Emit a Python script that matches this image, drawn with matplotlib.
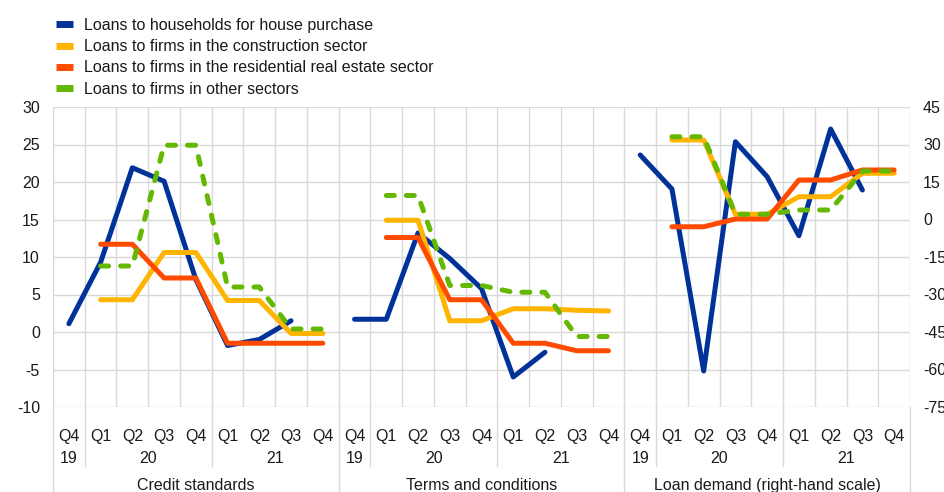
import numpy as np
import matplotlib.pyplot as plt
from matplotlib.lines import Line2D

plt.rcParams['font.family'] = ['Liberation Sans', 'DejaVu Sans']
plt.rcParams['axes.unicode_minus'] = False

# Data
quarters = ['Q4', 'Q1', 'Q2', 'Q3', 'Q4', 'Q1', 'Q2', 'Q3', 'Q4']
years = ['19', '20', '21']
panels = ['Credit standards', 'Terms and conditions', 'Loan demand (right-hand scale)']
series_names = ['Loans to households for house purchase',
                'Loans to firms in the construction sector',
                'Loans to firms in the residential real estate sector',
                'Loans to firms in other sectors']
nan = np.nan

credit_households = [1.1, 9.3, 21.9, 20.1, 7.0, -1.8, -1.0, 1.5, nan]
credit_construction = [nan, 4.3, 4.3, 10.6, 10.6, 4.2, 4.2, -0.2, -0.2]
credit_residential = [nan, 11.7, 11.7, 7.2, 7.2, -1.5, -1.5, -1.5, -1.5]
credit_other = [nan, 8.8, 8.8, 24.9, 24.9, 6.0, 6.0, 0.4, 0.4]

terms_households = [1.7, 1.7, 13.2, 9.8, 5.8, -6.0, -2.7, nan, nan]
terms_construction = [nan, 14.9, 14.9, 1.5, 1.5, 3.1, 3.1, 2.9, 2.8]
terms_residential = [nan, 12.6, 12.6, 4.3, 4.3, -1.5, -1.5, -2.5, -2.5]
terms_other = [nan, 18.2, 18.2, 6.2, 6.2, 5.3, 5.3, -0.6, -0.6]

demand_households = [25.8, 12.2, -60.6, 31.1, 17.1, -6.5, 36.2, 11.8, nan]
demand_construction = [nan, 31.8, 31.8, 2.1, 2.1, 9.1, 9.1, 18.5, 18.5]
demand_residential = [nan, -2.9, -2.9, 0.2, 0.2, 15.8, 15.8, 19.8, 19.8]
demand_other = [nan, 33.1, 33.1, 2.1, 2.1, 3.8, 3.8, 19.4, 19.4]

colors = ['#003299', '#FFB400', '#FF4B00', '#65B800']
grid_col = '#d9d9d9'
txt_col = '#1a1a1a'
fs = 11.5

fig = plt.figure(figsize=(9.44, 4.92), dpi=100)
ax = fig.add_axes([53/944, 85/492, 857/944, 300/492])
ax2 = ax.twinx()

n = len(quarters)
x = np.arange(n) + 0.5

left_panels = [
    [credit_households, credit_construction, credit_residential, credit_other],
    [terms_households, terms_construction, terms_residential, terms_other],
]
right_panel = [demand_households, demand_construction, demand_residential, demand_other]

def draw(a, x0, data):
    for k, (vals, c) in enumerate(zip(data, colors)):
        if k == 3:
            a.plot(x0 + x, vals, color=c, lw=3.6, linestyle=(0, (1.6, 2.4)),
                   dash_capstyle='round', zorder=3 + k)
        else:
            a.plot(x0 + x, vals, color=c, lw=3.6, solid_capstyle='round',
                   solid_joinstyle='round', zorder=3 + k)

for p, data in enumerate(left_panels):
    draw(ax, p * n, data)
draw(ax2, 2 * n, right_panel)

ax.set_xlim(0, 3 * n)
ax.set_ylim(-10, 30)
ax2.set_ylim(-75, 45)
ax.set_yticks(np.arange(-10, 31, 5))
ax2.set_yticks(np.arange(-75, 46, 15))
ax.set_xticks(np.arange(0, 3 * n + 1))
ax.set_xticklabels([])
ax.grid(True, color=grid_col, lw=1)
ax.set_axisbelow(True)
for a in (ax, ax2):
    for s in a.spines.values():
        s.set_visible(False)
ax.tick_params(axis='both', length=0)
ax.tick_params(axis='y', pad=9.4, labelsize=fs, labelcolor=txt_col)
ax2.tick_params(axis='y', length=0, pad=9.4, labelsize=fs, labelcolor=txt_col)

# category labels below the axis
tr = ax.get_xaxis_transform()
for p in range(3):
    x0 = p * n
    for i, q in enumerate(quarters):
        ax.text(x0 + i + 0.5, -0.1, q, transform=tr, ha='center', va='center',
                fontsize=fs, color=txt_col)
    ax.text(x0 + 0.5, -0.172, years[0], transform=tr, ha='center', va='center',
            fontsize=fs, color=txt_col)
    ax.text(x0 + 3, -0.172, years[1], transform=tr, ha='center', va='center',
            fontsize=fs, color=txt_col)
    ax.text(x0 + 7, -0.172, years[2], transform=tr, ha='center', va='center',
            fontsize=fs, color=txt_col)
    ax.text(x0 + 4.5, -0.262, panels[p], transform=tr, ha='center', va='center',
            fontsize=fs, color=txt_col)
    for xs in (x0 + 1, x0 + 5):
        ax.plot([xs, xs], [0, -0.197], transform=tr, color=grid_col, lw=1,
                clip_on=False)
for xs in (0, n, 2 * n, 3 * n):
    ax.plot([xs, xs], [0, -0.3], transform=tr, color=grid_col, lw=1, clip_on=False)

handles = [Line2D([0], [0], color=c, lw=5, solid_capstyle='butt') for c in colors]
fig.legend(handles, series_names, loc='upper left', bbox_to_anchor=(48/944, 1 - 10/492),
           frameon=False, fontsize=fs, handlelength=1.05, handletextpad=0.7,
           labelspacing=0.39, borderpad=0, labelcolor=txt_col)

fig.savefig('out.png', dpi=100)
